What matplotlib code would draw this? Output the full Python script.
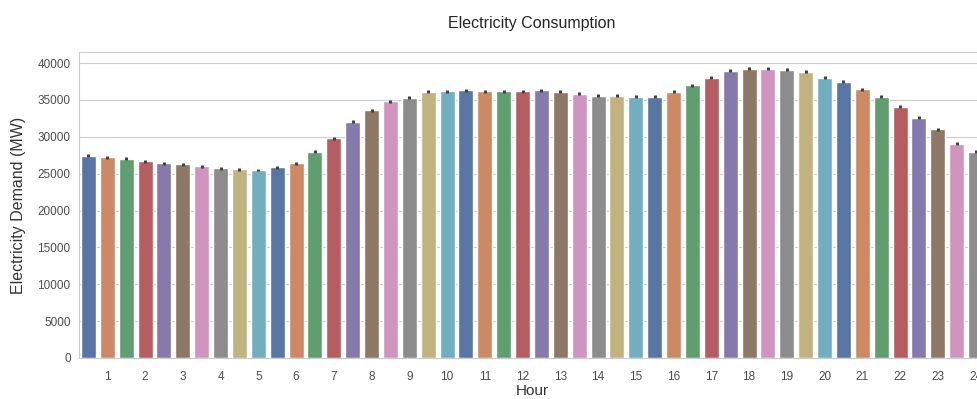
import matplotlib
matplotlib.use("Agg")
import matplotlib.pyplot as plt
import numpy as np
import seaborn as sns

# half-hourly average demand (MW), 48 periods
demand = [27400, 27200, 27000, 26700, 26400, 26300, 26000, 25750, 25570, 25500,
          25840, 26400, 27950, 29770, 32020, 33600, 34820, 35270, 36090, 36180,
          36310, 36180, 36180, 36180, 36310, 36090, 35860, 35590, 35550, 35410,
          35410, 36090, 36990, 37980, 38930, 39250, 39250, 39100, 38800, 38030,
          37440, 36450, 35410, 34050, 32600, 30990, 29090, 27950]
demand_err = [200] * 48
hour_labels = [str(h) for h in range(1, 25)]
y_ticks = [0, 5000, 10000, 15000, 20000, 25000, 30000, 35000, 40000]

sns.set_style("whitegrid")
plt.rcParams['font.family'] = ['Liberation Sans', 'DejaVu Sans']

fig = plt.figure(figsize=(9.78, 3.99), dpi=100)
ax = fig.add_axes([79 / 978, 41 / 399, 906 / 978, 306 / 399])

# barplot default saturation
colors = sns.color_palette("deep", 10, desat=0.75)
x = np.arange(len(demand))
ax.bar(x, demand, width=0.8, color=[colors[i % 10] for i in x])
ax.errorbar(x, demand, yerr=demand_err, fmt='none', ecolor='.26', elinewidth=2.2, capsize=0)

ax.set_xlim(-0.5, len(demand) - 0.5)
ax.set_ylim(0, 41500)
ax.set_yticks(y_ticks)
ax.set_xticks(x[1::2])
ax.set_xticklabels(hour_labels)
ax.grid(axis='x', visible=False)
ax.tick_params(axis='both', labelsize=8.5, colors='.3', length=0, pad=6)
ax.tick_params(axis='x', pad=9)

ax.set_xlabel('Hour', fontsize=11, color='.2', labelpad=1)
ax.set_ylabel('Electricity Demand (MW)', fontsize=11.5, color='.2', labelpad=8)
ax.set_title('Electricity Consumption', fontsize=11.5, color='.15', pad=17)

fig.savefig("out.png", dpi=100)
